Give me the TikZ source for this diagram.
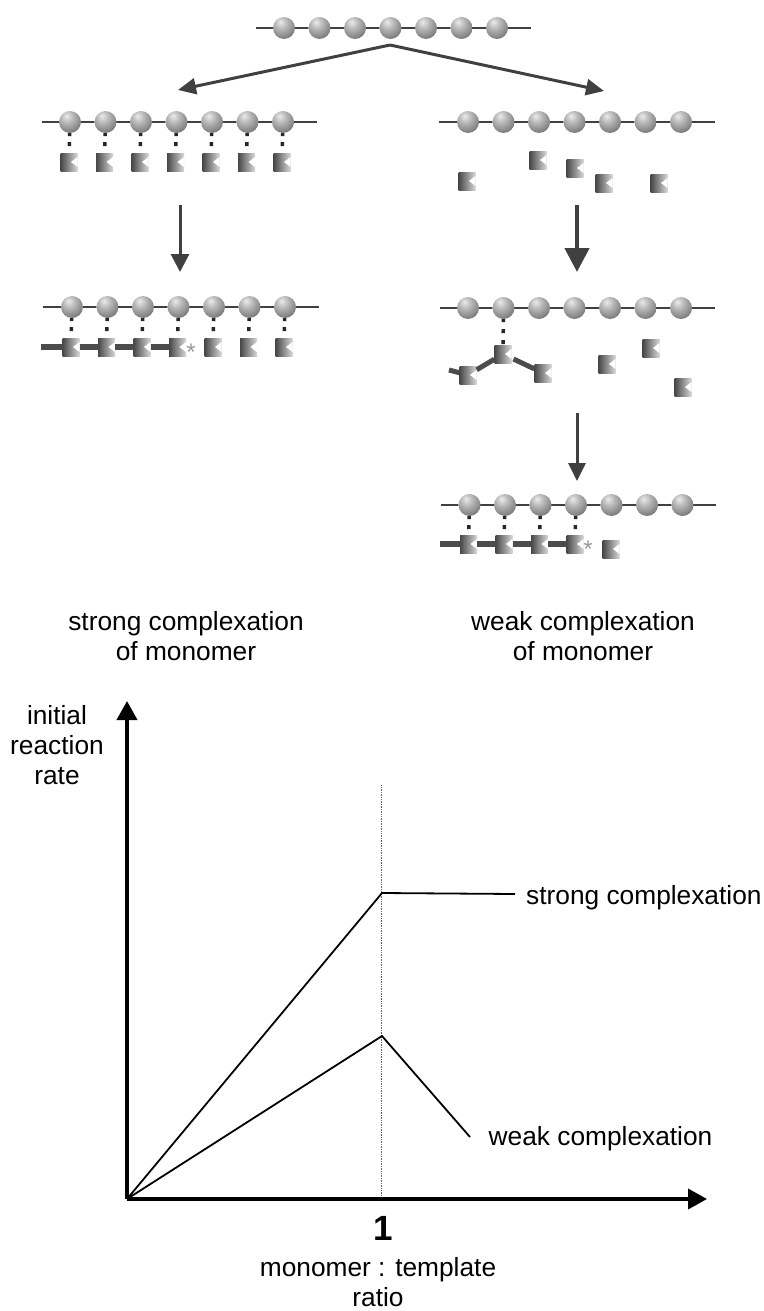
\documentclass[tikz,border=0pt]{standalone}
\usepackage{fontspec}
\setmainfont{Liberation Sans}
\usetikzlibrary{arrows.meta, calc}
\pgfdeclareradialshading{beadball}{\pgfpoint{-8bp}{14bp}}{color(0bp)=(black!8); color(14bp)=(black!28); color(34bp)=(black!52); color(50bp)=(black!70); color(100bp)=(black!70)}

\begin{document}
\begin{tikzpicture}[
    x=1pt, y=-1pt,
    bead/.style={circle, minimum size=22pt, inner sep=0pt, shading=beadball},
    monomer/.style={rectangle, minimum width=17pt, minimum height=18pt, inner sep=0pt, left color=black!72, middle color=black!88, right color=black!15,
        path picture={\fill[white] ([yshift=5pt]path picture bounding box.east) -- ([xshift=2pt]path picture bounding box.center) -- ([yshift=-5pt]path picture bounding box.east) -- cycle;}},
    backbone/.style={draw=black!75, line width=2.5pt},
    bond/.style={draw=black!85, line width=3.5pt, dash pattern=on 3pt off 6pt on 4pt off 30pt},
    longbond/.style={draw=black!85, line width=3.5pt, dash pattern=on 3pt off 7pt on 4pt off 7pt on 4pt off 30pt},
    bar/.style={draw=black!70, line width=6pt},
    arrow/.style={->, >={Triangle[length=18pt, width=18pt]}, draw=black!75, fill=black!75, line width=3pt},
    bigarrow/.style={->, >={Triangle[length=24pt, width=24pt]}, draw=black!75, fill=black!75, line width=4.5pt},
    axis/.style={->, >={Triangle[length=19pt, width=20pt]}, line width=3.8pt},
    curve/.style={line width=1.8pt},
    caption/.style={font=\fontsize{26.3}{30}\selectfont, align=center, inner sep=0pt},
    star/.style={font=\fontsize{24}{24}\selectfont, text=black!40, inner sep=0pt}
]
    \useasboundingbox (0,0) rectangle (763,1311);

    % Top chain
    \coordinate (c0) at (256,28);
    \coordinate (c8) at (531,28);
    \draw[backbone] (c0) -- (c8);
    \foreach \i in {1,...,7}
        \node[bead] (c\i) at ({284+(\i-1)*35.5},28) {};

    % Splitting arrows
    \coordinate (split) at (390,45);
    \coordinate (lefttip) at (178,90);
    \coordinate (righttip) at (604,91);
    \draw[arrow, >={Triangle[length=18pt, width=16pt]}] (split) -- (lefttip);
    \draw[arrow, >={Triangle[length=18pt, width=16pt]}] (split) -- (righttip);

    % Left column, bound monomers
    \coordinate (a0) at (42,122);
    \coordinate (a8) at (317,122);
    \draw[backbone] (a0) -- (a8);
    \foreach \i in {1,...,7} {
        \node[bead] (a\i) at ({70+(\i-1)*35.5},122) {};
        \node[monomer] (am\i) at ({69+(\i-1)*35.5},162) {};
        \draw[bond] (a\i) -- (am\i);
    }

    \coordinate (leftstart) at (180,205);
    \coordinate (leftend) at (180,272);
    \draw[arrow] (leftstart) -- (leftend);

    % Left column, growing polymer
    \coordinate (b0) at (43,307);
    \coordinate (b8) at (319,307);
    \draw[backbone] (b0) -- (b8);
    \foreach \i in {1,...,7} {
        \node[bead] (b\i) at ({72+(\i-1)*35.5},307) {};
        \node[monomer] (bm\i) at ({71+(\i-1)*35.5},347) {};
        \draw[bond] (b\i) -- (bm\i);
    }
    \coordinate (bstub) at (41,347);
    \draw[bar] (bstub) -- ([xshift=2pt]bm1.west);
    \draw[bar] (bm1.east) -- ([xshift=2pt]bm2.west);
    \draw[bar] (bm2.east) -- ([xshift=2pt]bm3.west);
    \draw[bar] (bm3.east) -- ([xshift=2pt]bm4.west);
    \node[star] (bstar) at (191,352) {*};

    % Right column, free monomers
    \coordinate (d0) at (439,122);
    \coordinate (d8) at (715,122);
    \draw[backbone] (d0) -- (d8);
    \foreach \i in {1,...,7}
        \node[bead] (d\i) at ({468+(\i-1)*35.5},122) {};
    \node[monomer] (df1) at (467,181) {};
    \node[monomer] (df2) at (538,160) {};
    \node[monomer] (df3) at (575,168) {};
    \node[monomer] (df4) at (604,183) {};
    \node[monomer] (df5) at (659,183) {};

    \coordinate (rightstart) at (577,205);
    \coordinate (rightend) at (577,272);
    \draw[bigarrow] (rightstart) -- (rightend);

    % Right column, branching on one site
    \coordinate (e0) at (440,308);
    \coordinate (e8) at (715,308);
    \draw[backbone] (e0) -- (e8);
    \foreach \i in {1,...,7}
        \node[bead] (e\i) at ({468+(\i-1)*35.5},308) {};
    \node[monomer] (et1) at (468,375) {};
    \node[monomer] (et2) at (503,354) {};
    \node[monomer] (et3) at (543,373) {};
    \node[monomer] (ef1) at (607,364) {};
    \node[monomer] (ef2) at (651,348) {};
    \node[monomer] (ef3) at (683,387) {};
    \draw[longbond] (e2) -- (et2);
    \coordinate (estub) at (449,370);
    \draw[bar, line width=5pt] (estub) -- (et1);
    \draw[bar, line width=5pt] (et2) -- (et1);
    \draw[bar, line width=5pt, shorten <=2pt] (et2) -- (et3);

    \coordinate (lowstart) at (577,413);
    \coordinate (lowend) at (577,481);
    \draw[arrow, >={Triangle[length=18pt, width=17pt]}] (lowstart) -- (lowend);

    % Right column, growing polymer
    \coordinate (f0) at (441,505);
    \coordinate (f8) at (716,505);
    \draw[backbone] (f0) -- (f8);
    \foreach \i in {1,...,7}
        \node[bead] (f\i) at ({469.5+(\i-1)*35.5},505) {};
    \foreach \i in {1,...,4} {
        \node[monomer] (fm\i) at ({468.5+(\i-1)*35.5},544) {};
        \draw[bond] (f\i) -- (fm\i);
    }
    \node[monomer] (ff1) at (611,549) {};
    \coordinate (fstub) at (440,544);
    \draw[bar] (fstub) -- ([xshift=2pt]fm1.west);
    \draw[bar] (fm1.east) -- ([xshift=2pt]fm2.west);
    \draw[bar] (fm2.east) -- ([xshift=2pt]fm3.west);
    \draw[bar] (fm3.east) -- ([xshift=2pt]fm4.west);
    \node[star] (fstar) at (588,549) {*};

    % Column captions
    \node[caption] (strongcap) at (186,636) {strong complexation\\of monomer};
    \node[caption] (weakcap) at (583,636) {weak complexation\\of monomer};

    % Axes
    \coordinate (origin) at (127,1199);
    \coordinate (ytip) at (127,701);
    \coordinate (xtip) at (707,1199);
    \coordinate (mark) at (381,1199);
    \coordinate (marktop) at (381,785);
    \draw[black!60, line width=0.7pt, densely dotted] (mark) -- (marktop);
    \draw[axis] (origin) -- (ytip);
    \draw[axis] (origin) -- (xtip);

    % Rate curves
    \coordinate (strongpeak) at (382,893);
    \coordinate (strongend) at (515,894);
    \coordinate (weakpeak) at (382,1036);
    \coordinate (weakend) at (470,1137);
    \draw[curve] (origin) -- (strongpeak) -- (strongend);
    \draw[curve] (origin) -- (weakpeak) -- (weakend);

    % Axis and curve labels
    \node[caption] (yname) at (57,745) {initial\\reaction\\rate};
    \node[caption, anchor=west] (stronglabel) at (526,897.5) {strong complexation};
    \node[caption, anchor=west] (weaklabel) at (488.5,1139) {weak complexation};
    \node[caption, font=\fontsize{35}{35}\selectfont\bfseries] (one) at (383,1228) {1};
    \node[caption] (xname) at (378,1282) {monomer : template\\ratio};
\end{tikzpicture}
\end{document}
